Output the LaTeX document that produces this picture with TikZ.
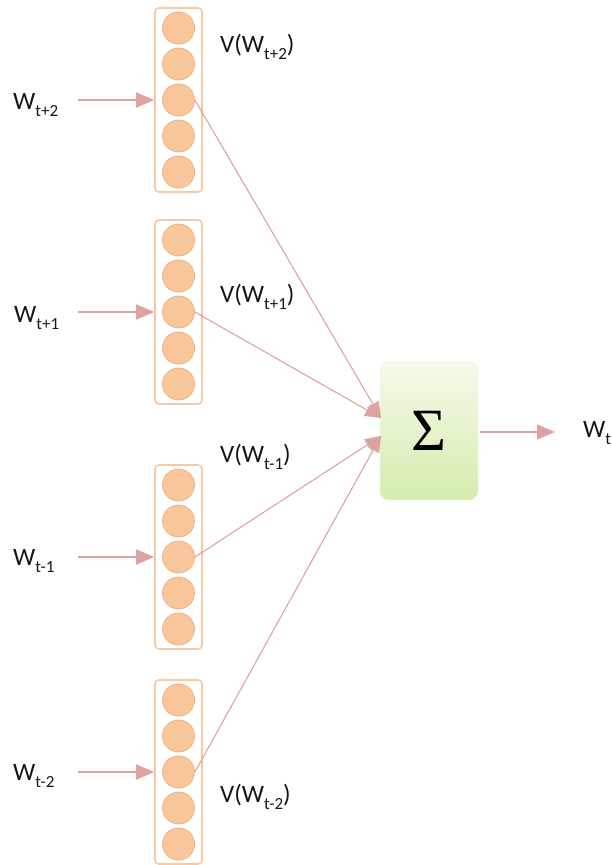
\documentclass[tikz,border=0pt]{standalone}
\usepackage{fontspec}
\setmainfont{Carlito}
\newfontfamily\sigmafont{Liberation Serif}
\usetikzlibrary{arrows.meta,calc}

\definecolor{peach}{HTML}{F9C69C}
\definecolor{peachdark}{HTML}{EFB285}
\definecolor{boxline}{HTML}{F6C9A4}
\definecolor{link}{HTML}{DDA2A2}
\definecolor{sumtop}{HTML}{F5FAEA}
\definecolor{sumbot}{HTML}{D4ECAE}
\definecolor{ink}{HTML}{151515}

% word symbol with a lowered index
\newcommand\wsub[1]{W\raisebox{-7pt}{\fontsize{17}{17}\selectfont #1}}

\begin{document}
\begin{tikzpicture}[x=1pt,y=-1pt,
  unit/.style={circle, minimum size=32pt, inner sep=0pt, fill=peach, draw=peachdark, line width=0.8pt},
  vecbox/.style={rectangle, rounded corners=4pt, draw=boxline, line width=1.6pt,
                 minimum width=47pt, minimum height=184pt, inner sep=0pt},
  txt/.style={inner sep=0pt, text=ink, font=\fontsize{25}{25}\selectfont},
  feed/.style={draw=link, line width=1.8pt, -{Triangle[length=18pt,width=15pt]}},
  conn/.style={draw=link, line width=1.1pt, -{Triangle[length=16pt,width=13pt]}},
  sumbox/.style={rectangle, rounded corners=9pt, minimum width=98pt, minimum height=138pt,
                 top color=sumtop, bottom color=sumbot, draw=sumbot!60!white, line width=0.4pt,
                 inner sep=0pt}]

\useasboundingbox (0,0) rectangle (611,865);
\clip (0,0) rectangle (611,865);

% four context words, each with its embedding vector
\foreach \n/\y/\lab/\wx/\wy/\vx/\vy in {a/100/t+2/13/109/220/52, b/312/t+1/14/322/220/302,
                                        c/557/t-1/13/565/220/462, d/772/t-2/13/780/220/802}{
  \node[vecbox] (box-\n) at (178.5,\y) {};
  \foreach \k/\dy in {1/-72,2/-36,3/0,4/36,5/72}
    \node[unit] (c\n-\k) at (178.5,{\y+\dy}) {};
  \node[txt, anchor=base west] (in-\n) at (\wx,\wy) {\wsub{\lab}};
  \draw[feed] (78,\y) coordinate (start-\n) -- (box-\n.west);
  \node[txt, anchor=base west] (v-\n) at (\vx,\vy) {V(\wsub{\lab})};
}

% summation unit
\node[sumbox] (sum) at (429,431) {};
\node[inner sep=0pt, text=black] (sigma) at (sum.center) {\sigmafont\fontsize{60}{60}\selectfont Σ};

\coordinate (tip-up) at (381,418);
\coordinate (tip-dn) at (381,436);
\draw[conn] (ca-3.east) -- (tip-up);
\draw[conn] (cb-3.east) -- (tip-up);
\draw[conn] (cc-3.east) -- (tip-dn);
\draw[conn] (cd-3.east) -- (tip-dn);

% predicted word
\node[txt, anchor=base west] (out) at (583,437) {\wsub{t}};
\coordinate (out-tip) at (555,432);
\draw[feed] (sum.east |- out-tip) ++(2,0) -- (out-tip);
\end{tikzpicture}
\end{document}
